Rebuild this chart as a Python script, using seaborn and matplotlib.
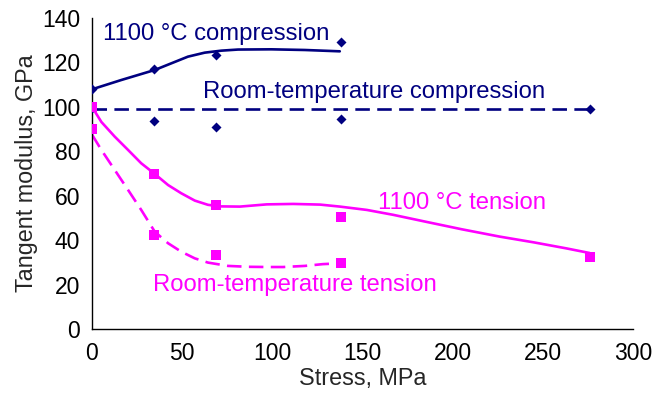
import matplotlib
matplotlib.use("Agg")
import matplotlib.pyplot as plt
import seaborn as sns

# measured points
stress_pts = [0, 34.5, 69, 138, 276]
hot_comp_pts = [108, 117, 123.5, 129]          # 1100 C compression (x: first 4)
rt_comp_pts = [99.5, 93.7, 91, 94.6, 99]        # room-temp compression
hot_ten_pts = [100, 70, 56, 50.5, 32.5]         # 1100 C tension
rt_ten_pts = [90, 42.5, 33.3, 29.7]             # room-temp tension (x: first 4)

# fitted curves
hot_comp_cx = [0, 16.3, 34.8, 44, 53.2, 62.5, 71.7, 81, 99.4, 118, 137.4]
hot_comp_cy = [107.9, 112.1, 116.6, 119.6, 122.6, 124.4, 125.3, 125.8, 125.9, 125.6, 125.0]
rt_comp_cx = [0, 276]
rt_comp_cy = [99.2, 99.2]
hot_ten_cx = [0, 5.2, 12.6, 20, 27.3, 34.8, 42.2, 49.5, 57, 64.3, 71, 82, 96.9,
              111.6, 126.5, 137.5, 152.4, 167, 185, 205, 226, 245, 263, 276]
hot_ten_cy = [100, 93.2, 86.6, 80.6, 74.6, 69.8, 64.8, 61.1, 57.8, 55.9, 55.2, 55.1, 56.1,
              56.3, 56, 55.1, 53.6, 51.4, 48.3, 44.9, 41.6, 39, 36.3, 34.2]
rt_ten_cx = [0, 5.2, 12.6, 20, 27.3, 34.8, 42.2, 49.5, 57, 64.3, 75.4, 86.5, 97.6, 106, 118, 128, 138]
rt_ten_cy = [87.5, 80.6, 71.6, 62.6, 53.6, 43.8, 38.6, 34.8, 31.8, 29.9, 28.4, 28.0, 27.9, 27.9, 28.4, 29.2, 29.6]

NAVY = "#000080"
MAG = "#FF00FF"

sns.set_style("white")
plt.rcParams["font.family"] = ["Liberation Sans", "DejaVu Sans"]

fig = plt.figure(figsize=(6.54, 3.93), dpi=100)
ax = fig.add_axes([92/654, 1-329/393, (633-92)/654, (329-18)/393])

lw = 1.9
sns.lineplot(x=hot_comp_cx, y=hot_comp_cy, ax=ax, color=NAVY, lw=lw, sort=False)
sns.lineplot(x=rt_comp_cx, y=rt_comp_cy, ax=ax, color=NAVY, lw=lw, sort=False)
ax.lines[-1].set_dashes((5.5, 2.8))
sns.lineplot(x=hot_ten_cx, y=hot_ten_cy, ax=ax, color=MAG, lw=lw, sort=False)
sns.lineplot(x=rt_ten_cx, y=rt_ten_cy, ax=ax, color=MAG, lw=lw, sort=False)
ax.lines[-1].set_dashes((5.5, 2.8))
for ln in ax.lines:
    ln.set_solid_joinstyle("round")
    ln.set_dash_joinstyle("round")

sns.scatterplot(x=stress_pts[:4], y=hot_comp_pts, ax=ax, color=NAVY, marker="D", s=26, edgecolor=NAVY, linewidth=0, zorder=5)
sns.scatterplot(x=stress_pts, y=rt_comp_pts, ax=ax, color=NAVY, marker="D", s=26, edgecolor=NAVY, linewidth=0, zorder=5)
sns.scatterplot(x=stress_pts, y=hot_ten_pts, ax=ax, color=MAG, marker="s", s=48, edgecolor=MAG, linewidth=0, zorder=5)
sns.scatterplot(x=stress_pts[:4], y=rt_ten_pts, ax=ax, color=MAG, marker="s", s=48, edgecolor=MAG, linewidth=0, zorder=5)

fs = 17.2
ax.text(6, 132.6, "1100 °C compression", color=NAVY, fontsize=fs, va="center", ha="left")
ax.text(61.5, 106.8, "Room-temperature compression", color=NAVY, fontsize=fs, va="center", ha="left")
ax.text(158.5, 56.6, "1100 °C tension", color=MAG, fontsize=fs, va="center", ha="left")
ax.text(33.8, 19.8, "Room-temperature tension", color=MAG, fontsize=fs, va="center", ha="left")

ax.set_xlim(0, 300)
ax.set_ylim(0, 140)
ax.set_xticks(range(0, 301, 50))
ax.set_yticks(range(0, 141, 20))
ax.tick_params(direction="in", length=14.5, width=1, colors="black", labelsize=16.5)
ax.tick_params(axis="x", pad=9)
ax.tick_params(axis="y", pad=8.5)
ax.set_xlabel("Stress, MPa", fontsize=16.8, labelpad=1.5)
ax.set_ylabel("Tangent modulus, GPa", fontsize=16.8, labelpad=3)
for s in ["top", "right"]:
    ax.spines[s].set_visible(False)
for s in ["left", "bottom"]:
    ax.spines[s].set_color("black")
    ax.spines[s].set_linewidth(1)
ax.set_facecolor("white")
ax.grid(False)

fig.savefig("out.png", dpi=100)
